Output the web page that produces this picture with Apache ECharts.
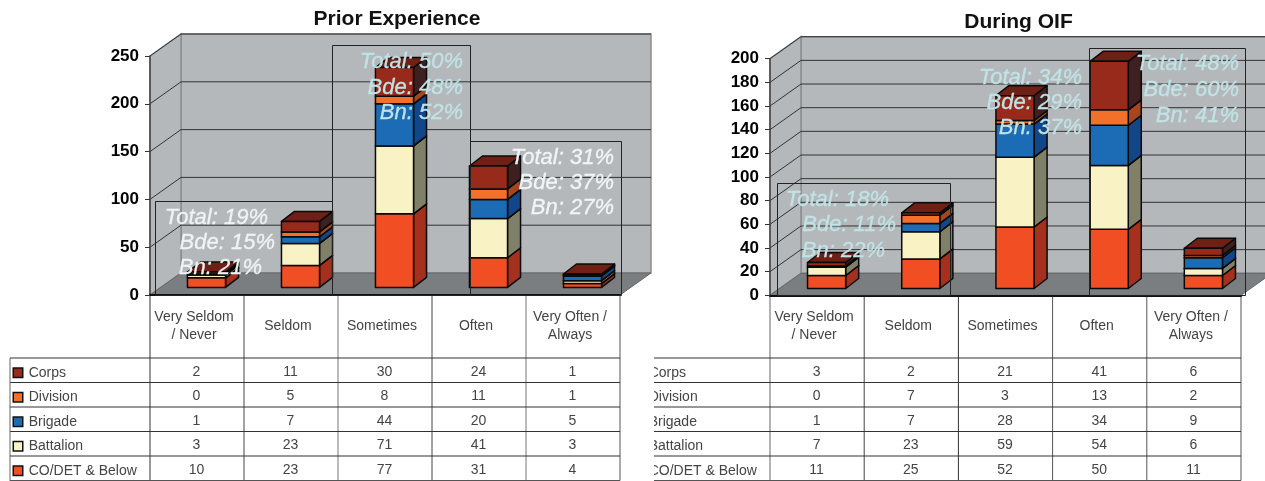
<!DOCTYPE html>
<html><head><meta charset="utf-8">
<style>html,body{margin:0;padding:0;background:#fff}#c{width:1265px;height:481px;filter:blur(0.4px)}</style>
<script src="https://cdn.jsdelivr.net/npm/echarts@6/dist/echarts.min.js"></script>
</head><body><div id="c"></div>
<script>
const categories = ['Very Seldom\n/ Never','Seldom','Sometimes','Often','Very Often /\nAlways'];
const rowNames = ['Corps','Division','Brigade','Battalion','CO/DET & Below'];
const priorCorps = [2,11,30,24,1];
const priorDivision = [0,5,8,11,1];
const priorBrigade = [1,7,44,20,5];
const priorBattalion = [3,23,71,41,3];
const priorCompany = [10,23,77,31,4];
const oifCorps = [3,2,21,41,6];
const oifDivision = [0,7,3,13,2];
const oifBrigade = [1,7,28,34,9];
const oifBattalion = [7,23,59,54,6];
const oifCompany = [11,25,52,50,11];
const priorTicks = [0,50,100,150,200,250];
const oifTicks = [0,20,40,60,80,100,120,140,160,180,200];
const priorNotes = [['Total: 19%','Bde: 15%','Bn: 21%'],['Total: 50%','Bde: 48%','Bn: 52%'],['Total: 31%','Bde: 37%','Bn: 27%']];
const oifNotes = [['Total: 18%','Bde: 11%','Bn: 22%'],['Total: 34%','Bde: 29%','Bn: 37%'],['Total: 48%','Bde: 60%','Bn: 41%']];

const FONT = '"Liberation Sans", Arial, sans-serif';
const palette = [ // bottom to top: front, side
  ['#f24e24','#a5301e'],['#f9f2c4','#808068'],['#1c6bb5','#12468a'],['#f2702a','#a5461f'],['#982a1c','#3f2020']];
const TOP = '#6e2015';
const swatch = ['#982a1c','#f2702a','#1c6bb5','#f9f2c4','#f24e24'];
const rich = {name:{fontFamily:FONT,fontSize:14,color:'#444'}};
swatch.forEach((c,i)=>{rich['s'+i]={width:8,height:8,backgroundColor:c,borderColor:'#111',borderWidth:1.5}});

const grids=[], xAxes=[], yAxes=[], series=[], titles=[], graphics=[];

function addChart(cfg){
  const g = grids.length;
  grids.push({left:cfg.left,width:cfg.width,top:cfg.top,height:cfg.height});
  grids.push({left:cfg.left,width:cfg.width,top:358,height:122.5});
  xAxes.push({type:'category',gridIndex:g,data:categories,
    axisLine:{lineStyle:{color:'#111',width:2}},axisTick:{show:false},
    axisLabel:{interval:0,verticalAlign:'middle',margin:31,padding:[0,6,0,0],fontFamily:FONT,fontSize:14,lineHeight:18,color:'#444'},z:5});
  yAxes.push({type:'value',gridIndex:g,min:0,max:cfg.ticks[cfg.ticks.length-1],interval:cfg.ticks[1],
    splitLine:{show:false},axisLine:{show:true,lineStyle:{color:'#444',width:1.5}},
    axisTick:{show:true,length:5,lineStyle:{color:'#333'}},
    axisLabel:{margin:11,fontFamily:FONT,fontWeight:'bold',fontSize:17,color:'#000'},z:5});
  xAxes.push({type:'category',gridIndex:g+1,data:categories,axisLine:{show:false},axisTick:{show:false},axisLabel:{show:false}});
  yAxes.push({type:'category',gridIndex:g+1,data:rowNames,inverse:true,axisLine:{show:false},axisTick:{show:false},
    axisLabel:{interval:0,align:'left',margin:136,padding:[5,0,0,0],rich,formatter:(v,i)=>`{s${i}|}  {name|${v}}`}});

  const dx=31, dy=22;
  // walls, floor, gridlines
  series.push({type:'custom',xAxisIndex:g,yAxisIndex:g,z:1,silent:true,data:cfg.ticks.map(t=>[0,t]),
    renderItem(p,api){
      const s=p.coordSys, L=s.x, R=s.x+s.width, T=s.y, B=s.y+s.height;
      const y=api.coord([0,api.value(1)])[1];
      const kids=[];
      if(p.dataIndex===0){
        const wall={fill:'#b4b8bb',stroke:'#8a8d90',lineWidth:1.5};
        kids.push({type:'polygon',shape:{points:[[L+dx,T-dy],[R+dx,T-dy],[R+dx,B-dy],[L+dx,B-dy]]},style:wall});
        kids.push({type:'polygon',shape:{points:[[L,T],[L+dx,T-dy],[L+dx,B-dy],[L,B]]},style:wall});
        kids.push({type:'polygon',shape:{points:[[L,B],[L+dx,B-dy],[R+dx,B-dy],[R,B]]},style:{fill:'#7b7e81',stroke:'#666',lineWidth:1}});
      }
      if(p.dataIndex>0){
        kids.push({type:'polyline',shape:{points:[[L,y],[L+dx,y-dy],[R+dx,y-dy]]},style:{fill:'none',stroke:'#333',lineWidth:1}});
      }
      return {type:'group',children:kids};
    }});
  // header and table column rules
  series.push({type:'custom',xAxisIndex:g,yAxisIndex:g,z:2,silent:true,data:[0,1,2,3,4,5].map(i=>[i,0]),
    renderItem(p,api){
      const w=api.size([1,0])[0], x=api.coord([0,0])[0]-w/2+api.value(0)*w, y=p.coordSys.y+p.coordSys.height;
      return {type:'line',shape:{x1:x,y1:y,x2:x,y2:480.5},style:{stroke:cfg.ruleColors[p.dataIndex],lineWidth:1}};
    }});
  // stacked 3D bars
  const base=[0,0,0,0,0];
  cfg.rows.slice().reverse().forEach((vals,k)=>{
    const data=vals.map((v,i)=>{const d=[i,base[i],base[i]+v];base[i]+=v;return d;});
    series.push({type:'custom',name:rowNames[4-k],xAxisIndex:g,yAxisIndex:g,z:3,silent:true,data,encode:{x:0,y:[1,2]},
      renderItem(p,api){
        if(api.value(1)===api.value(2)) return null;
        const bw=api.size([1,0])[0]*0.405, ox=cfg.barShiftX, oy=cfg.barShiftY, ddx=13, ddy=10;
        const a=api.coord([api.value(0),api.value(1)]), b=api.coord([api.value(0),api.value(2)]);
        const l=a[0]-bw/2+ox, r=l+bw, y0=a[1]-oy, y1=b[1]-oy;
        const st=c=>({fill:c,stroke:'#0a0a0a',lineWidth:1.5,lineJoin:'round'});
        return {type:'group',children:[
          {type:'polygon',shape:{points:[[r,y0],[r+ddx,y0-ddy],[r+ddx,y1-ddy],[r,y1]]},style:st(palette[k][1])},
          {type:'polygon',shape:{points:[[l,y1],[l+ddx,y1-ddy],[r+ddx,y1-ddy],[r,y1]]},style:st(TOP)},
          {type:'rect',shape:{x:l,y:y1,width:bw,height:y0-y1},style:st(palette[k][0])}
        ]};
      }});
  });
  // table: row rules and values
  series.push({type:'custom',xAxisIndex:g+1,yAxisIndex:g+1,z:2,silent:true,data:[0,1,2,3,4].map(i=>[0,i]),
    renderItem(p,api){
      const h=api.size([0,1])[1], c=api.coord([0,api.value(1)])[1], x1=cfg.tableLeft, x2=p.coordSys.x+p.coordSys.width;
      const kids=[{type:'line',shape:{x1,y1:c-h/2,x2,y2:c-h/2},style:{stroke:'#333',lineWidth:1.2}}];
      if(p.dataIndex===4) kids.push({type:'line',shape:{x1,y1:c+h/2,x2,y2:c+h/2},style:{stroke:'#555',lineWidth:1.2}});
      return {type:'group',children:kids};
    }});
  const cells=[];
  cfg.rows.forEach((vals,r)=>vals.forEach((v,i)=>cells.push([i,r,v])));
  series.push({type:'custom',xAxisIndex:g+1,yAxisIndex:g+1,z:4,silent:true,data:cells,
    renderItem(p,api){
      const c=api.coord([api.value(0),api.value(1)]);
      return {type:'text',style:{text:String(api.value(2)),x:c[0]-0.5,y:c[1]+1.5,align:'center',verticalAlign:'middle',
        font:'14px '+FONT,fill:'#444'}};
    }});
  titles.push({text:cfg.title,left:cfg.titleX,top:cfg.titleY,textAlign:'center',
    textStyle:{fontFamily:FONT,fontWeight:'bold',fontSize:21,color:'#111'}});
  cfg.boxes.forEach(b=>graphics.push({type:'rect',z:20,silent:true,shape:{x:b[0]+.5,y:b[1]+.5,width:b[2]-b[0],height:b[3]-b[1]},
    style:{fill:'none',stroke:'#222',lineWidth:1}}));
  cfg.notes.forEach((lines,n)=>lines.forEach((t,j)=>{
    const pos=cfg.notePos[n][j];
    graphics.push({type:'text',z:30,silent:true,style:{text:t,x:pos[0],y:pos[1],align:'right',verticalAlign:'middle',
      font:'italic 22px '+FONT,fill:cfg.noteColor[n],stroke:cfg.noteColor[n],lineWidth:0.3}});
  }));
}

addChart({title:'Prior Experience',titleX:392,titleY:3.5,left:150,width:470,top:56,height:239,ticks:priorTicks,
  rows:[priorCorps,priorDivision,priorBrigade,priorBattalion,priorCompany],tableLeft:10,barShiftX:9.5,barShiftY:7.6,
  ruleColors:['#333','#444','#777','#444','#777','#555'],
  boxes:[[155,201,332,295],[332,45,470,295],[470,141,621,295]],
  notes:priorNotes,noteColor:['#eff3f4','#c0e3e6','#f2f5f6'],
  notePos:[[[268,218],[275,243],[262,268]],[[463,62],[463,88],[463,113]],[[614,158],[614,183],[614,208]]]});
addChart({title:'During OIF',titleX:1013.5,titleY:6.5,left:770,width:471,top:58.7,height:236.6,ticks:oifTicks,
  rows:[oifCorps,oifDivision,oifBrigade,oifBattalion,oifCompany],tableLeft:654,barShiftX:9.5,barShiftY:6.8,
  ruleColors:['#666','#444','#333','#555','#555','#555'],
  boxes:[[777,183,950,295],[1089,48,1245,295]],
  notes:oifNotes,noteColor:['#c0e3e6','#c0e3e6','#c0e3e6'],
  notePos:[[[889,200],[896,225],[885,251]],[[1082,78],[1082,103],[1082,128]],[[1239,64],[1239,90],[1239,116]]]});

// left table's outer rule and the mask that trims the second table's row names
graphics.push({type:'line',z:20,silent:true,shape:{x1:10,y1:358,x2:10,y2:481},style:{stroke:'#666',lineWidth:1}});
graphics.push({type:'rect',z:25,silent:true,shape:{x:624,y:357,width:30,height:124},style:{fill:'#fff'}});

const chart=echarts.init(document.getElementById('c'),null,{renderer:'canvas'});
chart.setOption({animation:false,backgroundColor:'#fff',title:titles,grid:grids,xAxis:xAxes,yAxis:yAxes,series,graphic:{elements:graphics}});
</script></body></html>
